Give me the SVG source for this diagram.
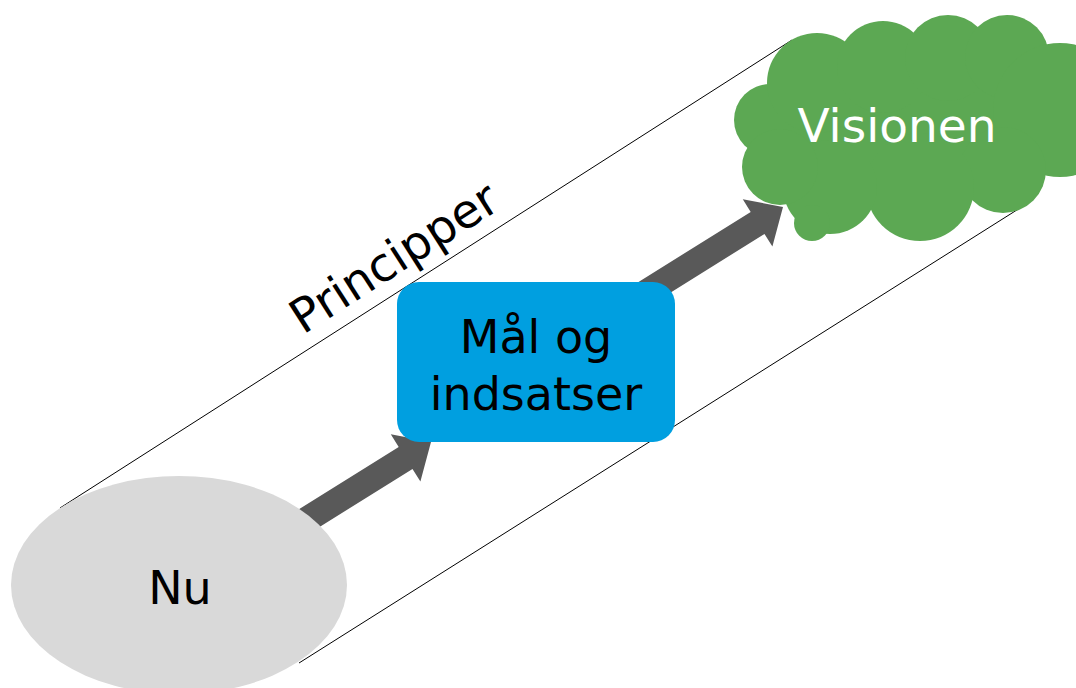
<svg xmlns="http://www.w3.org/2000/svg" width="1076" height="688" viewBox="0 0 1076 688">
  <style>
    .guide { stroke: #000; stroke-width: 1; fill: none; }
    .lbl { font-family: "DejaVu Sans", "Liberation Sans", sans-serif; text-anchor: middle; }
    .arrow { fill: #595959; }
    .cloud { fill: #5CA853; }
  </style>
  <defs>
    <!-- block arrow, tip at origin, pointing up-right -->
    <path id="blockArrow" d="M-176.5,95 L-32.3,4.9 L-40.2,-7.8 L0,0 L-10.6,39.6 L-18.5,26.9 L-162.7,117 Z"/>
  </defs>
  <rect width="1076" height="688" fill="#fff"/>

  <!-- principle band edges and the two block arrows -->
  <g id="connectors">
    <line class="guide" x1="60" y1="508" x2="792" y2="40"/>
    <line class="guide" x1="299" y1="663" x2="1020" y2="208"/>
    <use href="#blockArrow" class="arrow" transform="translate(431,442)"/>
    <use href="#blockArrow" class="arrow" transform="translate(783,207)"/>
  </g>

  <g id="principper">
    <text class="lbl" x="0" y="0" font-size="47" style="text-anchor:start" transform="translate(303,335) rotate(-32.6)">Principper</text>
  </g>

  <g id="nu">
    <ellipse cx="179" cy="585" rx="168" ry="109" fill="#D9D9D9"/>
    <text class="lbl" x="180" y="604" font-size="46" fill="#000">Nu</text>
  </g>

  <g id="maal">
    <rect x="397" y="282" width="278" height="160" rx="22" fill="#009FE0"/>
    <text class="lbl" x="536" y="353" font-size="46" fill="#000">Mål og</text>
    <text class="lbl" x="536" y="410" font-size="46" fill="#000">indsatser</text>
  </g>

  <g id="visionen">
    <g class="cloud">
      <ellipse cx="900" cy="125" rx="140" ry="85"/>
      <circle cx="770" cy="120" r="36"/>
      <circle cx="817" cy="83" r="50"/>
      <circle cx="883" cy="67" r="46"/>
      <circle cx="948" cy="58" r="43"/>
      <circle cx="1007" cy="57" r="42"/>
      <circle cx="1060" cy="110" r="67"/>
      <circle cx="1003" cy="170" r="43"/>
      <circle cx="920" cy="187" r="54"/>
      <circle cx="830" cy="187" r="47"/>
      <circle cx="812" cy="223" r="18"/>
      <circle cx="780" cy="167" r="38"/>
    </g>
    <text class="lbl" x="897" y="142" font-size="47" fill="#fff">Visionen</text>
  </g>
</svg>
